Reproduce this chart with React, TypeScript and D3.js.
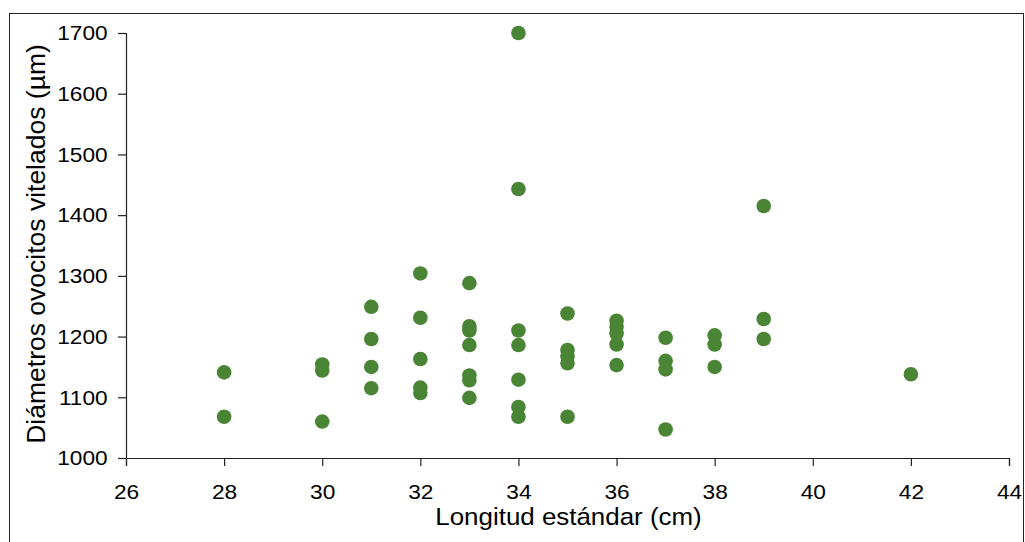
import React, {useEffect, useRef} from "react";
import * as d3 from "d3";

// longitud estándar (cm) y diámetro (µm) de cada punto
const lengths = [
    28, 28,
    30, 30, 30,
    31, 31, 31, 31,
    32, 32, 32, 32, 32,
    33, 33, 33, 33, 33, 33, 33,
    34, 34, 34, 34, 34, 34, 34,
    35, 35, 35, 35, 35,
    36, 36, 36, 36, 36,
    37, 37, 37, 37,
    38, 38, 38,
    39, 39, 39,
    42
]
const diameters = [
    1141, 1068,
    1154, 1144, 1060,
    1249, 1196, 1150, 1115,
    1304, 1231, 1163, 1116, 1107,
    1288, 1217, 1210, 1186, 1136, 1128, 1099,
    1700, 1443, 1210, 1186, 1129, 1084, 1068,
    1238, 1178, 1167, 1156, 1068,
    1226, 1216, 1205, 1187, 1153,
    1198, 1160, 1146, 1047,
    1202, 1187, 1150,
    1415, 1229, 1196,
    1138
]
const xTicks = [26, 28, 30, 32, 34, 36, 38, 40, 42, 44]
const yTicks = [1000, 1100, 1200, 1300, 1400, 1500, 1600, 1700]

const xTitle = "Longitud estándar (cm)"
const yTitle = "Diámetros ovocitos vitelados (µm)"

const App = () => {
    const ref = useRef(null)

    useEffect(() => {
        const {current} = ref
        current.querySelectorAll("*").forEach(child => child.remove())

        const width = 1025, height = 542
        const left = 126, right = 1009, top = 33, bottom = 458
        const font = "'Liberation Sans', Arial, sans-serif"
        // the original text is a little wider than it is tall
        const stretch = "scale(1.08, 1)"

        const svg = d3.select(current)
            .attr("width", width)
            .attr("height", height)

        svg.append("rect")
            .attr("x", 9.5).attr("y", 13.5)
            .attr("width", 1014).attr("height", 560)
            .attr("fill", "#fff")
            .attr("stroke", "#222")
            .attr("stroke-width", 1)

        const x = d3.scaleLinear().domain([26, 44]).range([left, right])
        const y = d3.scaleLinear().domain([1000, 1700]).range([bottom, top])

        const xAxis = svg.append("g")
            .attr("transform", `translate(0, ${bottom})`)
            .call(d3.axisBottom(x).tickValues(xTicks).tickSize(8).tickSizeOuter(8).tickPadding(18).tickFormat(d3.format("d")))
        const yAxis = svg.append("g")
            .attr("transform", `translate(${left}, 0)`)
            .call(d3.axisLeft(y).tickValues(yTicks).tickSize(8).tickSizeOuter(8).tickPadding(9).tickFormat(d3.format("d")))

        for (const ax of [xAxis, yAxis]) {
            ax.selectAll("path, line").attr("stroke", "#222").attr("stroke-width", 1.2)
            ax.selectAll("text")
                .attr("fill", "#000")
                .attr("transform", stretch)
                .style("font-family", font)
                .style("font-size", "21px")
        }
        xAxis.selectAll("text").attr("dy", "0.71em")

        svg.append("g")
            .selectAll("circle")
            .data(lengths.map((l, i) => [l, diameters[i]]))
            .join("circle")
            .attr("cx", d => x(d[0]))
            .attr("cy", d => y(d[1]))
            .attr("r", 7.3)
            .attr("fill", "#4a8536")

        svg.append("text")
            .attr("transform", `translate(${(left + right) / 2 + 1}, 525) ${stretch}`)
            .attr("text-anchor", "middle")
            .style("font-family", font)
            .style("font-size", "24px")
            .text(xTitle)

        svg.append("text")
            .attr("transform", `translate(45, 244) rotate(-90)`)
            .attr("text-anchor", "middle")
            .style("font-family", font)
            .style("font-size", "26.5px")
            .text(yTitle)
    }, [])

    return <svg ref={ref} style={{position: "absolute", left: 0, top: 0}}/>
}

export default App
